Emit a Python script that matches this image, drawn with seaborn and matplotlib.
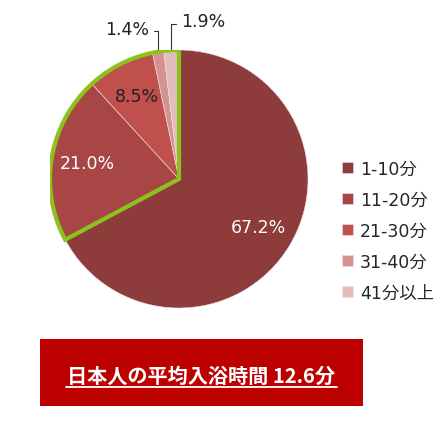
import numpy as np
import seaborn as sns
import matplotlib.pyplot as plt
from matplotlib.patches import Wedge, Rectangle

# データ
categories = ["1-10分", "11-20分", "21-30分", "31-40分", "41分以上"]
shares = [67.2, 21.0, 8.5, 1.4, 1.9]
colors = ["#8E3B3B", "#A84646", "#C0504D", "#D39393", "#E3BDBD"]
label_colors = ["white", "white", "#222222", "#222222", "#222222"]
title = "日本人の平均入浴時間 12.6分"

sns.set_style("white")
plt.rcParams["font.family"] = ["DejaVu Sans", "Noto Sans CJK JP"]

fig = plt.figure(figsize=(4.48, 4.31), dpi=100)
ax = fig.add_axes([50 / 448, 122 / 431, 258 / 448, 258 / 431])

wedges, texts, autotexts = ax.pie(
    shares, colors=colors, startangle=90, counterclock=False,
    autopct="%.1f%%", pctdistance=0.72, radius=1,
    wedgeprops=dict(linewidth=0.4, edgecolor="#f0e0e0"),
    textprops=dict(fontsize=12.5),
)
for t, c in zip(autotexts, label_colors):
    t.set_color(c)

# 小さいスライスは外側にラベル（引き出し線つき）
for i, (tx, ty, side) in zip([3, 4], [(-0.40, 1.165, -1), (0.19, 1.225, 1)]):
    w = wedges[i]
    mid = np.deg2rad((w.theta1 + w.theta2) / 2)
    autotexts[i].set_visible(False)
    x0, y0 = np.cos(mid) * 0.995, np.sin(mid) * 0.995
    yl = ty - 0.02
    xe = tx - side * 0.21
    ax.plot([x0, x0, xe], [y0, yl, yl], color="#333333", lw=0.8, clip_on=False)
    ax.text(tx, ty, f"{shares[i]:.1f}%", fontsize=12.5, color="#222222",
            ha="center", va="center")

# 1-10分以外を緑の枠で囲む
a_start = wedges[0].theta2
a_end = wedges[0].theta1 + 360
ax.add_patch(Wedge((0, 0), 1.0, a_start, a_end, fill=False,
                   edgecolor="#8CC21E", linewidth=3, joinstyle="miter", zorder=5))

ax.set_xlim(-1, 1)
ax.set_ylim(-1, 1)
ax.set_aspect("equal")
ax.axis("off")

fig.legend(wedges, categories, loc="upper left", bbox_to_anchor=(326 / 448, 1 - 145 / 431),
           frameon=False, fontsize=12.5, handlelength=0.65, handleheight=0.65,
           labelspacing=0.75, handletextpad=0.4)

# 下の赤いボックス
fig.patches.append(Rectangle((40 / 448, 1 - 407 / 431), 323 / 448, 67 / 431,
                             transform=fig.transFigure, facecolor="#BC0000",
                             edgecolor="none"))
fig.text(201 / 448, 1 - 376 / 431, title, color="white", fontsize=14.5,
         fontweight="bold", ha="center", va="center",
         family=["Noto Sans CJK JP", "DejaVu Sans"])
fig.add_artist(plt.Line2D([66 / 448, 337 / 448], [1 - 388 / 431, 1 - 388 / 431],
                          color="white", lw=1.3, transform=fig.transFigure))

fig.savefig("out.png", dpi=100)
